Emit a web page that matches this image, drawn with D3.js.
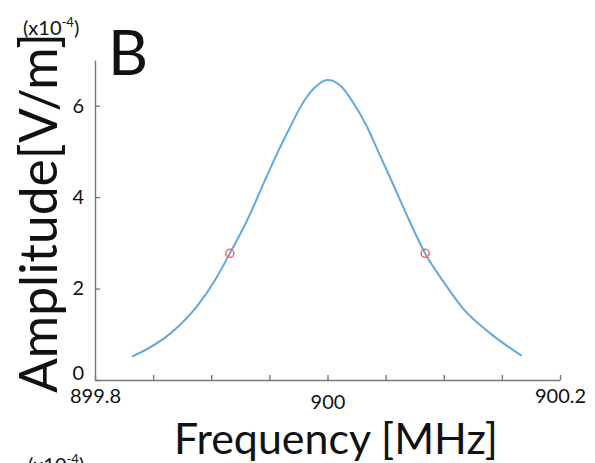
<!DOCTYPE html>
<html>
<head>
<meta charset="utf-8">
<script src="https://cdn.jsdelivr.net/npm/d3@7"></script>
<style>
  body { margin: 0; background: #fff; }
  text { font-family: Lato, "Open Sans", sans-serif; fill: #111; }
</style>
</head>
<body>
<div class="chart"></div>
<script>
var width = 595,
    height = 463;

// values (amplitude in 1e-4 V/m)
var freq = [899.832, 899.865, 899.888, 899.905, 899.916, 899.931, 899.945, 899.956,
            899.968, 899.979, 899.991, 900.000, 900.011, 900.022, 900.034, 900.045,
            900.057, 900.068, 900.084, 900.100, 900.117, 900.140, 900.167];
var amp = [0.51, 1.02, 1.62, 2.26, 2.77, 3.50, 4.30, 4.92,
           5.54, 6.07, 6.44, 6.56, 6.44, 6.07, 5.54, 4.92,
           4.25, 3.62, 2.77, 2.14, 1.55, 1.02, 0.53];

var markFreq = [899.916, 900.084];
var markAmp = [2.77, 2.77];

var xTicks = [899.8, 899.85, 899.9, 899.95, 900, 900.05, 900.1, 900.15, 900.2];
var xLabels = [899.8, 900, 900.2];
var yTicks = [0, 2, 4, 6];

var svg = d3.select(".chart")
    .append("svg")
    .attr("width", width)
    .attr("height", height);

var x = d3.scaleLinear().domain([899.8, 900.2]).range([95, 560]);
var y = d3.scaleLinear().domain([0, 7]).range([380, 60]);

// x axis, ticks point inward
var xAxis = svg.append("g")
    .attr("transform", "translate(0,380)")
    .call(d3.axisBottom(x)
        .tickValues(xTicks)
        .tickSizeInner(-5)
        .tickSizeOuter(0)
        .tickPadding(7)
        .tickFormat(d => xLabels.some(v => Math.abs(v - d) < 1e-6) ? d3.format("")(+d.toFixed(1)) : ""));

xAxis.selectAll("text")
    .style("font-size", "20px")
    .attr("dy", d => Math.abs(d - 900) < 1e-6 ? "1.1em" : "0.8em");

var yAxis = svg.append("g")
    .attr("transform", "translate(95,0)")
    .call(d3.axisLeft(y)
        .tickValues(yTicks)
        .tickFormat(d3.format("d"))
        .tickSizeInner(-5)
        .tickSizeOuter(0)
        .tickPadding(11));

yAxis.selectAll("text")
    .style("font-size", "20px")
    .attr("dy", d => d === 0 ? "-0.05em" : "0.32em");

svg.selectAll(".domain, .tick line")
    .attr("stroke", "#7a7a7a")
    .attr("stroke-width", 1.4);

// curve
var pts = freq.map((f, i) => [f, amp[i]]);
var line = d3.line()
    .x(d => x(d[0]))
    .y(d => y(d[1]))
    .curve(d3.curveMonotoneX);

svg.append("path")
    .datum(pts)
    .attr("d", line)
    .attr("fill", "none")
    .attr("stroke", "#63a9dc")
    .attr("stroke-width", 2);

svg.selectAll(".mark")
    .data(markFreq)
    .join("circle")
    .attr("class", "mark")
    .attr("cx", d => x(d))
    .attr("cy", (d, i) => y(markAmp[i]))
    .attr("r", 4)
    .attr("fill", "none")
    .attr("stroke", "#f26767")
    .attr("stroke-width", 1.5);

// fit a label's font size so it spans a given length
function fit(t, len) {
    t.style("font-size", "40px");
    var w = t.node().getComputedTextLength();
    t.style("font-size", (40 * len / w) + "px");
}

var xt = svg.append("text")
    .attr("x", 336)
    .attr("y", 454)
    .attr("text-anchor", "middle")
    .text("Frequency [MHz]");
fit(xt, 324);

var yt = svg.append("text")
    .attr("transform", "translate(57,213) rotate(-90)")
    .attr("text-anchor", "middle")
    .text("Amplitude[V/m]");
fit(yt, 360);

svg.append("text")
    .attr("x", 108)
    .attr("y", 75)
    .style("font-size", "62px")
    .text("B");

function scaleLabel(xp, yp) {
    var t = svg.append("text")
        .attr("x", xp)
        .attr("y", yp)
        .style("font-size", "20px");
    t.append("tspan").style("font-size", "20px").text("(x10");
    t.append("tspan").attr("dy", -8).style("font-size", "13px").text("-4");
    t.append("tspan").attr("dy", 8).style("font-size", "20px").text(")");
}
scaleLabel(23, 35);
scaleLabel(28, 472);
</script>
</body>
</html>
